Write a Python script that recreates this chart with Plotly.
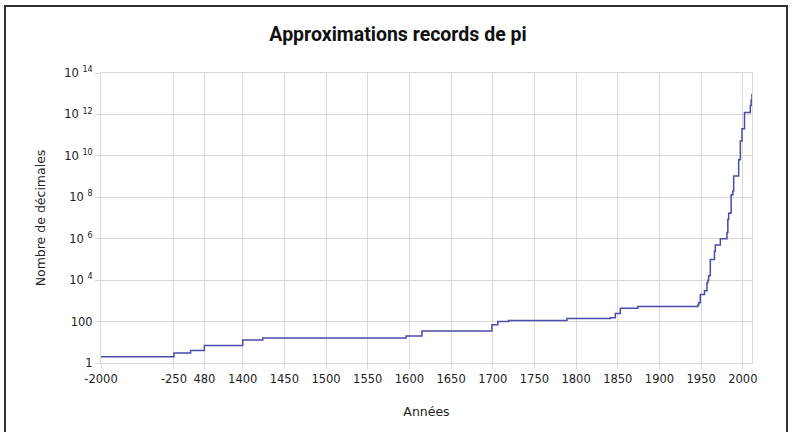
import numpy as np
import plotly.graph_objects as go

# Record approximations of pi: year and number of correct decimals
years = [-2000, -250, 150, 480, 1400, 1424, 1596, 1615, 1699, 1706, 1719, 1789,
         1841, 1847, 1853, 1874, 1946, 1947, 1947, 1949, 1954, 1957, 1958, 1959,
         1961, 1966, 1967, 1973, 1981, 1982, 1982, 1983, 1985, 1986, 1986, 1987,
         1988, 1989, 1989, 1989, 1995, 1995, 1997, 1999, 2002, 2009, 2009, 2010,
         2011]
decimals = [2, 3, 4, 7, 13, 16, 20, 35, 71, 100, 112, 140,
            152, 248, 440, 527, 620, 710, 808, 2037, 3092, 7480, 10000, 16167,
            100265, 250000, 500000, 1001250, 2000036, 4194293, 8388576, 16777206,
            17526200, 29360111, 134214700, 134217700, 201326551, 480000000,
            1011196691, 1073741799, 4294960000, 6442450000, 51539600000,
            206158430000, 1241100000000, 2576980377524, 2699999990000,
            5000000000000, 10000000000000]

tick_years = [-2000, -250, 480, 1400, 1450, 1500, 1550, 1600, 1650, 1700, 1750,
              1800, 1850, 1900, 1950, 2000]
y_tick_vals = [1, 1e2, 1e4, 1e6, 1e8, 1e10, 1e12, 1e14]
y_tick_text = ["1", "100", "10 <sup>4</sup>", "10 <sup>6</sup>", "10 <sup>8</sup>",
               "10 <sup>10</sup>", "10 <sup>12</sup>", "10 <sup>14</sup>"]

# broken time scale: years before 1400 are compressed 20x
BREAK = 1400
COMPRESS = 20.0


def to_axis(y):
    y = np.asarray(y, dtype=float)
    return np.where(y >= BREAK, y, BREAK + (y - BREAK) / COMPRESS)


x_end_year = 2011

fig = go.Figure()
fig.add_trace(go.Scatter(
    x=to_axis(years + [x_end_year]),
    y=decimals + [decimals[-1]],
    mode="lines",
    line=dict(color="#4b4baa", width=1.5, shape="hv"),
    showlegend=False,
))

grid = "#d9d9d9"
txt = "#222222"
fig.update_layout(
    width=796, height=432,
    margin=dict(l=101, r=44, t=73, b=69),
    paper_bgcolor="white", plot_bgcolor="white",
    font=dict(family="DejaVu Sans, Verdana, sans-serif", color=txt, size=12),
    title=dict(text="<b>Approximations records de pi</b>",
               x=0.5, xanchor="center", y=1 - 34 / 432, yanchor="middle",
               yref="container",
               font=dict(family="Roboto, sans-serif", size=19.5, color="#111111")),
    xaxis=dict(
        range=[float(to_axis(-2000)), float(to_axis(x_end_year))],
        tickmode="array",
        tickvals=to_axis(tick_years),
        ticktext=[str(t) for t in tick_years],
        showgrid=True, gridcolor=grid, gridwidth=1,
        ticks="outside", ticklen=5, tickcolor=grid,
        showline=True, linecolor=grid, mirror=True,
        zeroline=False,
        tickfont=dict(size=11.5),
        title=dict(text="Années", standoff=22, font=dict(size=12.5)),
        automargin=False,
    ),
    yaxis=dict(
        type="log",
        range=[0, 14],
        tickmode="array",
        tickvals=y_tick_vals,
        ticktext=y_tick_text,
        showgrid=True, gridcolor=grid, gridwidth=1,
        ticks="outside", ticklen=5, tickcolor=grid,
        showline=True, linecolor=grid, mirror=True,
        zeroline=False,
        tickfont=dict(size=11.5),
        title=dict(text="Nombre de décimales", standoff=15, font=dict(size=12.5)),
        automargin=False,
    ),
    shapes=[dict(
        type="rect", xref="paper", yref="paper",
        x0=(5 - 101) / 651, x1=(787 - 101) / 651,
        y0=-0.4, y1=(432 - 6 - 69) / 290,
        line=dict(color="#333333", width=2), fillcolor="rgba(0,0,0,0)",
        layer="above",
    )],
)

fig.write_html("out.html",
               config={"displayModeBar": False},
               post_script="document.body.style.margin='0';document.body.style.padding='0';")
